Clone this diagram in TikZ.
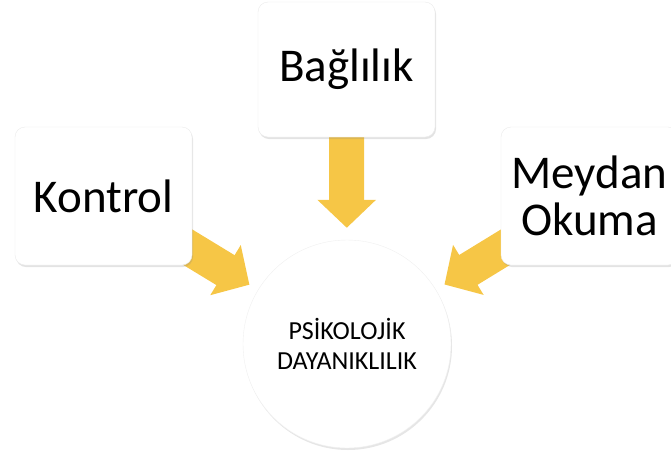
\documentclass[tikz,border=0pt]{standalone}
\usepackage{fontspec}
\setmainfont{Carlito}
\usetikzlibrary{arrows.meta,shadows,backgrounds}

\definecolor{arrowgold}{RGB}{246,198,70}

\begin{document}
\begin{tikzpicture}[x = 1pt, y = -1pt,
        card/.style = {draw = black!8, fill = white, rounded corners = 10pt,
            minimum width = 177pt, minimum height = 138pt, align = center,
            font = \fontsize{47}{47}\selectfont,
            drop shadow = {shadow xshift = 1pt, shadow yshift = -2pt, opacity = 0.22}},
        core/.style = {circle, draw = black!6, fill = white, minimum size = 208pt,
            align = center, font = \fontsize{26}{30}\selectfont,
            drop shadow = {shadow xshift = 1pt, shadow yshift = -2pt, opacity = 0.2}},
        flow/.style = {draw = arrowgold, line width = 35pt,
            -{Triangle[width = 57pt, length = 28pt]}}]
            \useasboundingbox (0, 0) rectangle (671, 456);

            \node[core] (psy) at (347, 344) {PSİKOLOJİK\\DAYANIKLILIK};

            \node[card] (kontrol) at (103.5, 196) {Kontrol};
            \node[card, minimum height = 135pt] (baglilik) at (346.5, 69.5) {Bağlılık};
            \node[card] (meydan) at (589.5, 196) {Meydan\\Okuma};

            \begin{scope}[on background layer]
                \draw[flow, shorten <= -25pt, shorten >= 10pt] (kontrol) -- (psy);
                \draw[flow, shorten <= -10pt, shorten >= 12pt] (baglilik) -- (psy);
                \draw[flow, shorten <= -25pt, shorten >= 10pt] (meydan) -- (psy);
            \end{scope}
        \end{tikzpicture}
\end{document}
